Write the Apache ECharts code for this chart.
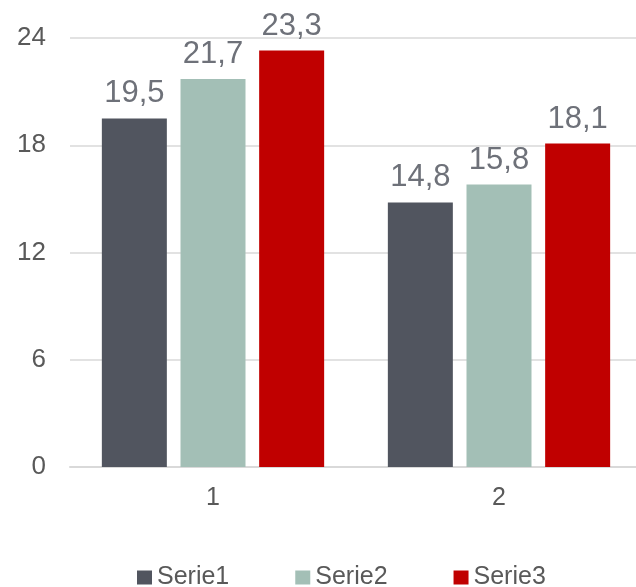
<!DOCTYPE html>
<html>
<head>
<meta charset="utf-8">
<script src="https://cdn.jsdelivr.net/npm/echarts@6/dist/echarts.min.js"></script>
<style>
  html, body { margin: 0; padding: 0; background: #ffffff; }
  #chart { width: 636px; height: 587px; }
</style>
</head>
<body>
<div id="chart"></div>
<script>
// Categories and series values
const categories = ['1', '2'];
const serie1 = [19.5, 14.8];
const serie2 = [21.7, 15.8];
const serie3 = [23.3, 18.1];
const seriesNames = ['Serie1', 'Serie2', 'Serie3'];
const seriesColors = ['#51555f', '#a3bfb6', '#c00000'];
const yTicks = { min: 0, max: 24, interval: 6 };

const FONT = '"Liberation Sans", Arial, sans-serif';
const decimalComma = v => String(v).replace('.', ',');

function makeSeries(name, data, color) {
  return {
    name: name,
    type: 'bar',
    data: data,
    barWidth: 65,
    barGap: '21%',
    itemStyle: { color: color },
    label: {
      show: true,
      position: 'top',
      distance: 9,
      color: '#6e7179',
      fontFamily: FONT,
      fontSize: 31,
      formatter: p => decimalComma(p.value)
    }
  };
}

const chart = echarts.init(document.getElementById('chart'), null, { renderer: 'canvas' });
chart.setOption({
  animation: false,
  backgroundColor: '#ffffff',
  // plot area runs slightly past the right edge of the canvas
  grid: {
    left: 70, width: 572, top: 38, bottom: 120,
    containLabel: false,
    outerBoundsMode: 'none'
  },
  legend: {
    data: seriesNames,
    left: 137,
    top: 565,
    padding: 0,
    itemWidth: 15,
    itemHeight: 14,
    itemGap: 66,
    icon: 'rect',
    textStyle: { color: '#595959', fontFamily: FONT, fontSize: 25 }
  },
  xAxis: {
    type: 'category',
    data: categories,
    axisLine: { show: true, lineStyle: { color: '#d9d9d9', width: 2 } },
    axisTick: { show: false },
    axisLabel: { color: '#595959', fontFamily: FONT, fontSize: 25, margin: 19 }
  },
  yAxis: {
    type: 'value',
    min: yTicks.min,
    max: yTicks.max,
    interval: yTicks.interval,
    axisLine: { show: false },
    axisTick: { show: false },
    splitLine: { lineStyle: { color: '#d9d9d9', width: 1.5 } },
    axisLabel: { color: '#595959', fontFamily: FONT, fontSize: 26, margin: 24 }
  },
  series: [
    makeSeries(seriesNames[0], serie1, seriesColors[0]),
    makeSeries(seriesNames[1], serie2, seriesColors[1]),
    makeSeries(seriesNames[2], serie3, seriesColors[2])
  ]
});
</script>
</body>
</html>
